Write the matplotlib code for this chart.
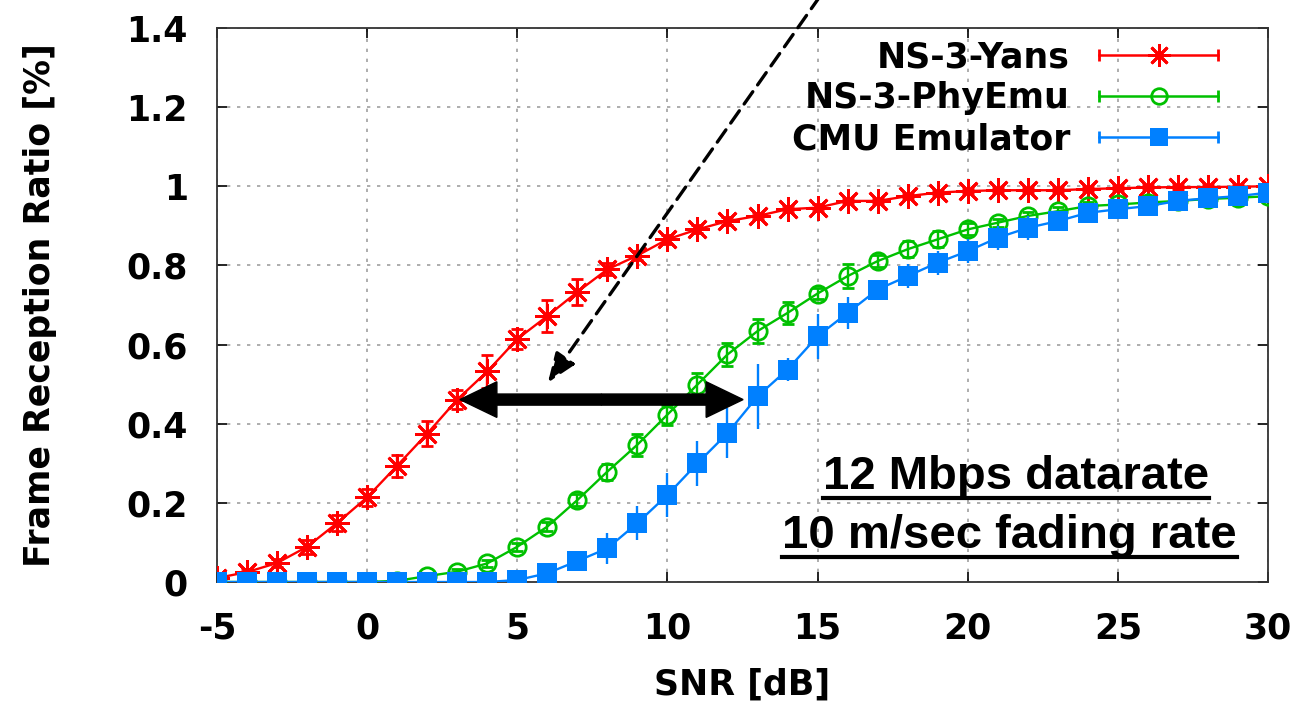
import matplotlib
matplotlib.use("Agg")
import matplotlib.pyplot as plt
from matplotlib.lines import Line2D
from matplotlib.legend_handler import HandlerLine2D

# data
snr = list(range(-5, 31))

yans = [0.01, 0.025, 0.048, 0.089, 0.149, 0.214, 0.294, 0.375, 0.461, 0.532,
        0.614, 0.672, 0.733, 0.790, 0.825, 0.866, 0.891, 0.912, 0.925, 0.942,
        0.946, 0.963, 0.963, 0.975, 0.984, 0.988, 0.990, 0.990, 0.990, 0.993,
        0.995, 0.997, 0.998, 0.998, 0.999, 1.000]
yans_err = [0.005, 0.008, 0.010, 0.018, 0.020, 0.022, 0.028, 0.032, 0.025, 0.042,
            0.025, 0.040, 0.032, 0.015, 0.012, 0.012, 0.010, 0.010, 0.008, 0.008,
            0.008, 0.005, 0.005, 0.005, 0.005, 0.005, 0.005, 0.005, 0.005, 0.005,
            0.005, 0.005, 0.005, 0.005, 0.005, 0.005]

phyemu = [0.0, 0.0, 0.0, 0.0, 0.0, 0.0, 0.003, 0.015, 0.026, 0.047,
          0.089, 0.140, 0.207, 0.279, 0.347, 0.423, 0.499, 0.575, 0.634, 0.680,
          0.729, 0.773, 0.811, 0.841, 0.866, 0.891, 0.908, 0.925, 0.937, 0.950,
          0.954, 0.959, 0.963, 0.968, 0.971, 0.975]
phyemu_err = [0.0, 0.0, 0.0, 0.0, 0.0, 0.0, 0.002, 0.005, 0.007, 0.008,
              0.010, 0.012, 0.015, 0.020, 0.028, 0.025, 0.030, 0.030, 0.030, 0.028,
              0.015, 0.030, 0.015, 0.020, 0.020, 0.015, 0.010, 0.010, 0.010, 0.010,
              0.010, 0.010, 0.010, 0.010, 0.010, 0.010]

cmu = [0.0, 0.0, 0.0, 0.0, 0.0, 0.0, 0.0, 0.0, 0.0, 0.0,
       0.005, 0.022, 0.053, 0.085, 0.149, 0.220, 0.300, 0.376, 0.469, 0.537,
       0.621, 0.680, 0.739, 0.773, 0.807, 0.836, 0.870, 0.895, 0.912, 0.933,
       0.942, 0.950, 0.963, 0.970, 0.975, 0.984]
cmu_err = [0.003, 0.003, 0.003, 0.003, 0.003, 0.003, 0.003, 0.003, 0.003, 0.003,
           0.003, 0.010, 0.015, 0.040, 0.044, 0.055, 0.057, 0.063, 0.082, 0.030,
           0.057, 0.040, 0.020, 0.030, 0.030, 0.030, 0.030, 0.030, 0.020, 0.020,
           0.020, 0.020, 0.020, 0.015, 0.015, 0.015]

labels = ["NS-3-Yans", "NS-3-PhyEmu", "CMU Emulator"]
colors = ["#ff0000", "#00c000", "#0080ff"]

xticks = [-5, 0, 5, 10, 15, 20, 25, 30]
yticks = [0, 0.2, 0.4, 0.6, 0.8, 1, 1.2, 1.4]
ytick_labels = ["0", "0.2", "0.4", "0.6", "0.8", "1", "1.2", "1.4"]

note_lines = ["12 Mbps datarate", "10 m/sec fading rate"]

label_size = 25


class CapHandler(HandlerLine2D):
    # gnuplot style key: line with end caps and marker in the middle
    def create_artists(self, legend, orig_handle, xdescent, ydescent, width, height, fontsize, trans):
        arts = super().create_artists(legend, orig_handle, xdescent, ydescent, width, height, fontsize, trans)
        y = (height - ydescent) / 2.
        caps = Line2D([-xdescent, -xdescent + width], [y, y], linestyle='none', marker='|',
                      markersize=8, markeredgewidth=2, color=orig_handle.get_color())
        caps.set_transform(trans)
        return arts + [caps]


fig = plt.figure(figsize=(12.94, 7.03), dpi=100)
ax = fig.add_axes([217/1294., 1-582/703., (1268-217)/1294., (582-28)/703.])

styles = [dict(marker=(8, 2, 0), ms=18, mew=2.0, mfc=colors[0]),
          dict(marker='o', ms=12.5, mew=2.0, mfc='none'),
          dict(marker='s', ms=14.5, mew=0, mfc=colors[2])]
series = [(yans, yans_err), (phyemu, phyemu_err), (cmu, cmu_err)]
handles = []
for i, (vals, errs) in enumerate(series):
    ax.errorbar(snr, vals, yerr=errs, color=colors[i], lw=1.7, elinewidth=1.7, capsize=4.5,
                capthick=1.7, mec=colors[i], zorder=3+i, **styles[i])
    handles.append(Line2D([], [], color=colors[i], lw=1.8, mec=colors[i],
                          **{k: (v*0.9 if k == 'ms' else v) for k, v in styles[i].items()}))

ax.set_xlim(-5, 30)
ax.set_ylim(0, 1.4)
ax.set_xticks(xticks)
ax.set_xticklabels([str(t) for t in xticks])
ax.set_yticks(yticks)
ax.set_yticklabels(ytick_labels)
ax.tick_params(direction='in', length=7, width=1.2, top=True, right=True,
               labelsize=label_size, pad=21)
for lab in ax.get_xticklabels() + ax.get_yticklabels():
    lab.set_fontweight('bold')
ax.grid(True, color='#a0a0a0', linestyle=(0, (2, 4)), lw=1.2, zorder=0)
ax.set_axisbelow(True)
for sp in ax.spines.values():
    sp.set_linewidth(1.3)
    sp.set_color('#333333')

ax.set_xlabel("SNR [dB]", fontsize=label_size, fontweight='bold', labelpad=16)
ax.set_ylabel("Frame Reception Ratio [%]", fontsize=label_size, fontweight='bold', labelpad=50)

ax.legend(handles, labels, loc='upper right', bbox_to_anchor=(0.952, 0.978), frameon=False,
          markerfirst=False, prop={'weight': 'bold', 'size': label_size},
          handlelength=3.4, handletextpad=0.85, labelspacing=0.2, borderpad=0, borderaxespad=0,
          handler_map={h: CapHandler(numpoints=1) for h in handles})

# double headed arrow between the curves
ax.arrow(7.8, 0.461, 12.52-7.8, 0, width=0.028, head_width=0.09, head_length=1.23,
         length_includes_head=True, color='k', zorder=6)
ax.arrow(7.8, 0.461, 3.09-7.8, 0, width=0.028, head_width=0.09, head_length=1.23,
         length_includes_head=True, color='k', zorder=6)

# dashed pointer coming from above the plot
ax.annotate('', xy=(6.02, 0.504), xytext=(15.08, 1.48), annotation_clip=False,
            arrowprops=dict(arrowstyle='-|>,head_length=0.9,head_width=0.35', lw=2.4,
                            linestyle=(0, (4.5, 2.5)), color='k', shrinkA=0, shrinkB=0,
                            mutation_scale=20, clip_on=False), zorder=7)

notes = []
for txt, xx, yy in zip(note_lines, [21.6, 21.4], [0.234, 0.085]):
    t = ax.text(xx, yy, txt, ha='center', va='baseline', fontsize=34, fontweight='bold',
                family='Liberation Sans', zorder=8)
    notes.append(t)

fig.canvas.draw()
for t in notes:
    bb = t.get_window_extent()
    fig.add_artist(Line2D([bb.x0, bb.x1], [bb.y0 + 1, bb.y0 + 1], color='k', lw=3,
                          transform=None))

fig.savefig("out.png", dpi=100)
